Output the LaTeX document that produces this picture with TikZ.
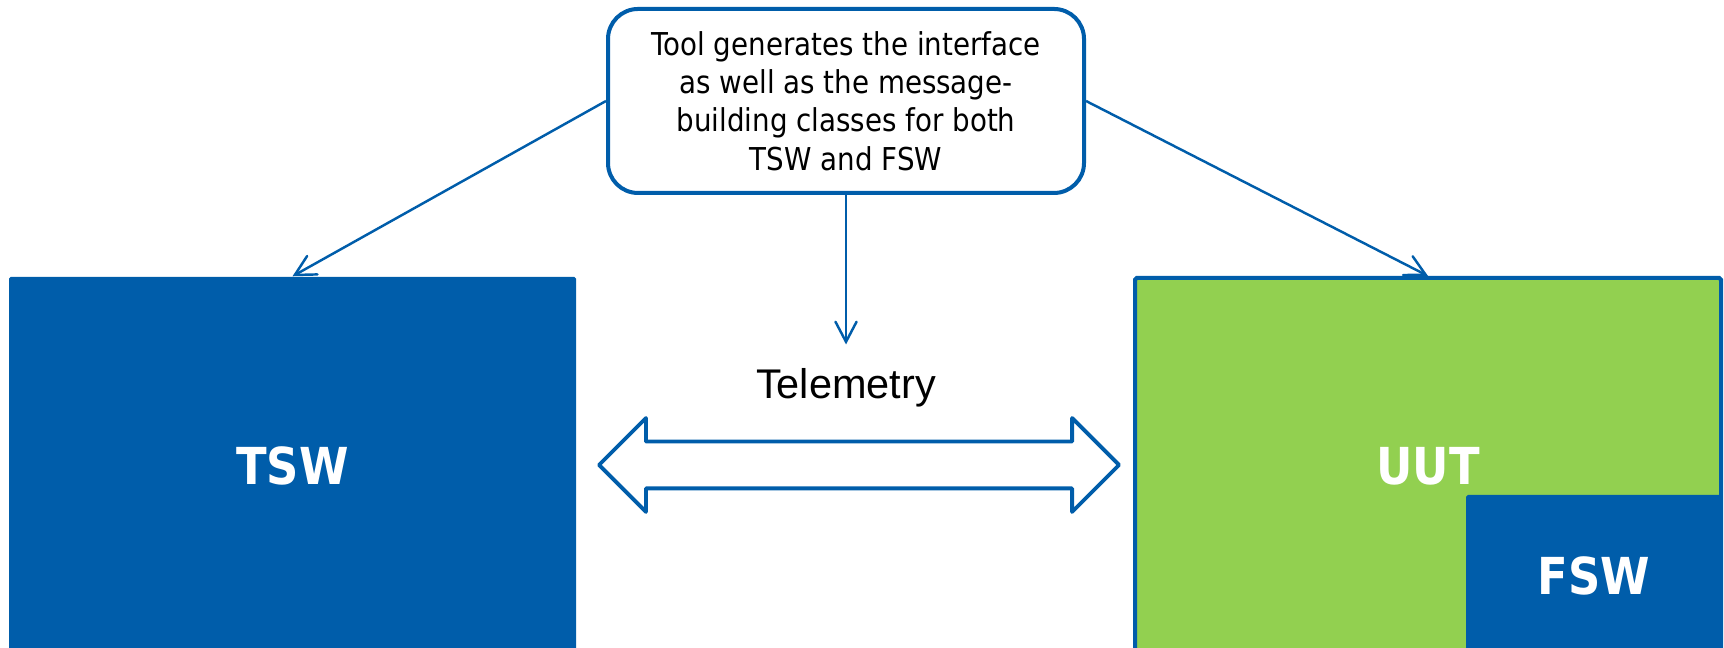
\documentclass[tikz,border=0pt]{standalone}
\usepackage{fontspec}
\setmainfont{DejaVu Sans}[FakeStretch=0.88]
\newfontfamily\arialfont{Liberation Sans}
\usetikzlibrary{arrows.meta,shapes.arrows}
\definecolor{swblue}{RGB}{0,93,170}
\definecolor{uutgreen}{RGB}{146,208,80}

\begin{document}
\begin{tikzpicture}[
		lbl/.style={text=white, font=\fontsize{14.5}{17}\selectfont\bfseries},
		blk/.style={rectangle, rounded corners=0.5pt, inner sep=0pt, fill=swblue},
		lnk/.style={draw=swblue, line width=0.7pt, -{Straight Barb[length=5.7pt, width=6pt, line cap=round]}}
	]
		%%%%% START %%%%%
		\path[use as bounding box, clip] (0, 0) rectangle (17.24, 6.48);
		
		% test software on the left
		\node[blk, lbl, minimum width=5.67cm, minimum height=3.78cm] (tsw) at (2.925, 1.82) {TSW};
		
		% unit under test, flight software in its corner
		\node[blk, lbl, fill=uutgreen, draw=swblue, line width=1.14pt, minimum width=5.86cm, minimum height=3.76cm] (uut) at (14.28, 1.82) {UUT};
		\node[blk, lbl, minimum width=2.56cm, minimum height=1.62cm] (fsw) at (15.94, 0.72) {FSW};
		
		% generator note
		\node[draw=swblue, fill=white, line width=1.14pt, rounded corners=0.3cm, minimum width=4.76cm, minimum height=1.84cm, align=center, font=\fontsize{8.96}{10.9}\selectfont] (tool) at (8.46, 5.47) {Tool generates the interface\\as well as the message-\\building classes for both\\TSW and FSW};
		
		% telemetry link
		\node[font=\arialfont\fontsize{11.8}{14}\selectfont, inner sep=0pt] (telem) at (8.46, 2.605) {Telemetry};
		\node[double arrow, draw=swblue, line width=1.1pt, line join=round, minimum height=5.2cm, inner xsep=0pt, inner ysep=0.215cm, double arrow head extend=0.235cm] (link) at (8.59, 1.83) {};
		
		\draw[lnk] (tool.west) -- (tsw.north);
		\draw[lnk] (tool.east) -- (uut.north);
		\draw[lnk, shorten >=0.23cm] (tool.south) -- (telem.north);
		%%%%% END %%%%%
\end{tikzpicture}
\end{document}
